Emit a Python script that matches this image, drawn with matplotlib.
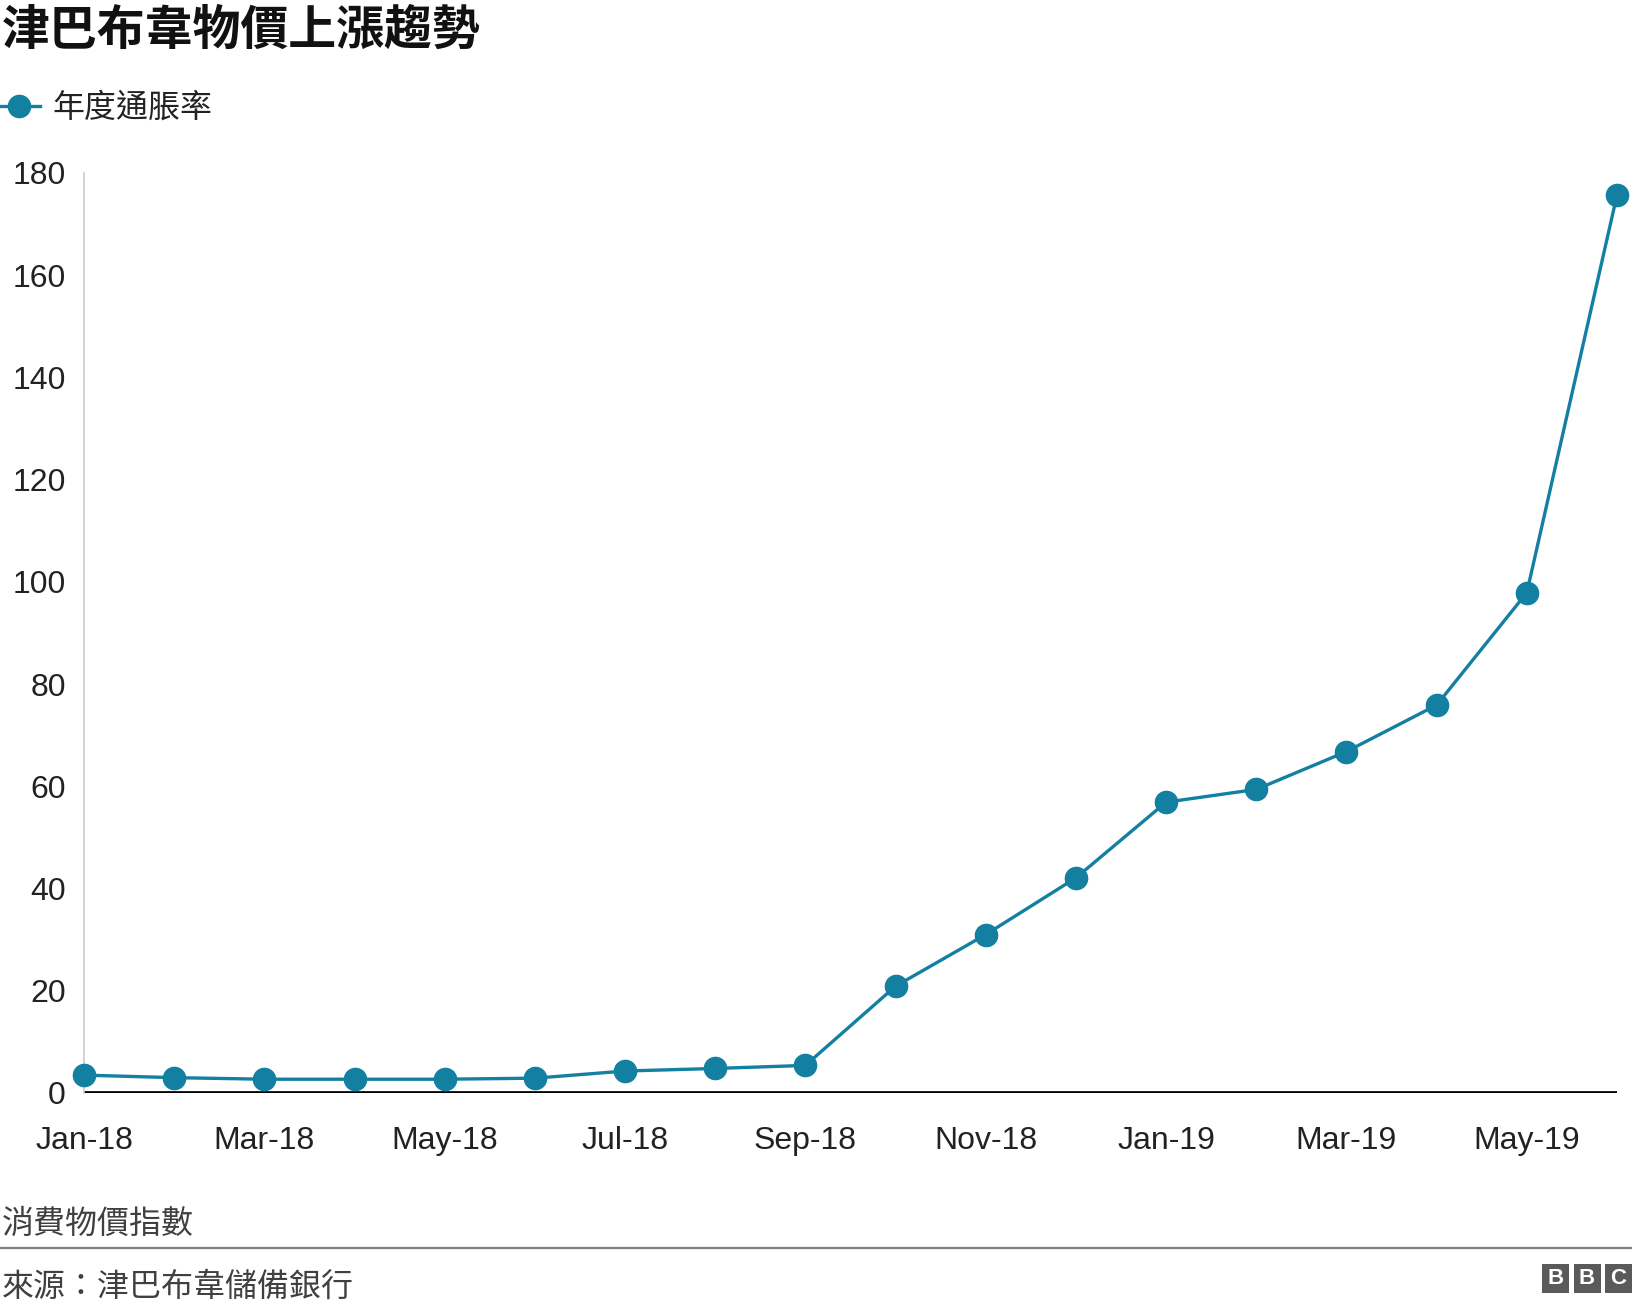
import matplotlib
matplotlib.use("Agg")
import matplotlib.pyplot as plt
from matplotlib.patches import Rectangle

# Datos: inflación anual (%) en Zimbabue, ene-2018 a jun-2019
months = ["Jan-18", "Feb-18", "Mar-18", "Apr-18", "May-18", "Jun-18",
          "Jul-18", "Aug-18", "Sep-18", "Oct-18", "Nov-18", "Dec-18",
          "Jan-19", "Feb-19", "Mar-19", "Apr-19", "May-19", "Jun-19"]
inflation = [3.5, 3.0, 2.7, 2.7, 2.7, 2.9, 4.3, 4.8, 5.4, 20.9, 31.0, 42.1,
             56.9, 59.4, 66.8, 75.9, 97.9, 175.7]
y_ticks = [0, 20, 40, 60, 80, 100, 120, 140, 160, 180]

title = "津巴布韋物價上漲趨勢"
legend_label = "年度通脹率"
subtitle = "消費物價指數"
source = "來源：津巴布韋儲備銀行"

teal = "#1380A1"
cjk = ["Noto Sans CJK TC", "DejaVu Sans"]
latin = ["Liberation Sans", "DejaVu Sans"]

W, H = 1632, 1304
fig = plt.figure(figsize=(W / 100, H / 100), dpi=100)

def fx(px):
    return px / W

def fy(py):
    return 1 - py / H

ax = fig.add_axes([fx(84), fy(1093), fx(1617) - fx(84), fy(173) - fy(1093)])

x = list(range(len(months)))
ax.plot(x, inflation, color=teal, lw=2.4, marker="o", markersize=16,
        clip_on=False, zorder=3)
ax.axhline(0, color="black", lw=3.4, zorder=2)

ax.set_xlim(0, len(months) - 1)
ax.set_ylim(0, 180)
ax.set_yticks(y_ticks)
ax.set_xticks(x[::2])
ax.set_xticklabels(months[::2])

for s in ["top", "right", "bottom"]:
    ax.spines[s].set_visible(False)
ax.spines["left"].set_color("#cccccc")
ax.spines["left"].set_linewidth(1.2)
ax.tick_params(axis="both", length=0, labelsize=23, colors="#222222")
ax.tick_params(axis="y", pad=13)
ax.tick_params(axis="x", pad=24)
for lab in ax.get_xticklabels() + ax.get_yticklabels():
    lab.set_fontfamily(latin)

# Título y leyenda
fig.text(fx(2), fy(30), title, family=cjk, fontsize=34.5, fontweight="bold",
         va="center", ha="left", color="#111111")
fig.add_artist(plt.Line2D([fx(0), fx(40)], [fy(106), fy(106)], color=teal,
                          lw=2.4, transform=fig.transFigure))
fig.add_artist(plt.Line2D([fx(19)], [fy(106)], color=teal, marker="o",
                          markersize=16, transform=fig.transFigure))
fig.text(fx(52), fy(108), legend_label, family=cjk, fontsize=23,
         va="center", ha="left", color="#222222")

# Pie del gráfico
fig.text(fx(2), fy(1224), subtitle, family=cjk, fontsize=23,
         va="center", ha="left", color="#404040")
fig.add_artist(plt.Line2D([0, 1], [fy(1248), fy(1248)], color="#7f7f7f",
                          lw=1.6, transform=fig.transFigure))
fig.text(fx(2), fy(1287), source, family=cjk, fontsize=23,
         va="center", ha="left", color="#404040")

# Logo BBC
for i, letter in enumerate("BBC"):
    left = 1542 + i * 31.5
    fig.add_artist(Rectangle((fx(left), fy(1293)), fx(27), fy(1264) - fy(1293),
                             facecolor="#5a5a5a", edgecolor="none",
                             transform=fig.transFigure))
    fig.text(fx(left + 13.5), fy(1278.5), letter, family=latin, fontsize=16,
             fontweight="bold", color="white", ha="center", va="center")

fig.savefig("out.png", dpi=100)
